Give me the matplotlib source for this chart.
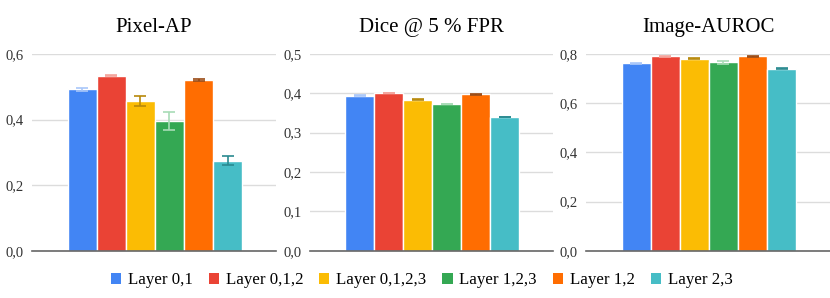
import matplotlib
matplotlib.use("Agg")
import matplotlib.pyplot as plt
from matplotlib.patches import Patch
import numpy as np

plt.rcParams['font.family'] = ['Liberation Serif', 'DejaVu Serif']

layers = ["Layer 0,1", "Layer 0,1,2", "Layer 0,1,2,3", "Layer 1,2,3", "Layer 1,2", "Layer 2,3"]
colors = ["#4285F4", "#EA4335", "#FBBC04", "#34A853", "#FF6D01", "#46BDC6"]
err_colors = ["#a9c7f9", "#f4a49c", "#b8890a", "#a8dcb6", "#9a4a14", "#2a8a90"]

titles = ["Pixel-AP", "Dice @ 5 % FPR", "Image-AUROC"]
pixel_ap = [0.492, 0.534, 0.456, 0.396, 0.522, 0.275]
pixel_ap_err = [0.004, 0.002, 0.015, 0.027, 0.003, 0.015]
dice = [0.394, 0.401, 0.384, 0.373, 0.398, 0.340]
dice_err = [0.001, 0.001, 0.001, 0.001, 0.001, 0.001]
auroc = [0.763, 0.790, 0.781, 0.766, 0.790, 0.741]
auroc_err = [0.002, 0.002, 0.003, 0.006, 0.002, 0.004]

values = [pixel_ap, dice, auroc]
errors = [pixel_ap_err, dice_err, auroc_err]
yticks = [[0.0, 0.2, 0.4, 0.6], [0.0, 0.1, 0.2, 0.3, 0.4, 0.5], [0.0, 0.2, 0.4, 0.6, 0.8]]

fig = plt.figure(figsize=(8.3, 2.98), dpi=100)
lefts = [32 / 830, 310 / 830, 586 / 830]
widths = [244 / 830, 243 / 830, 244 / 830]
bottom = (298 - 250.7) / 298
top = (298 - 54.0) / 298

x = np.arange(len(layers))
for i in range(3):
    ax = fig.add_axes([lefts[i], bottom, widths[i], top - bottom])
    ax.bar(x, values[i], width=1.0, color=colors, edgecolor="white", linewidth=1.0, zorder=2)
    for j in range(len(layers)):
        ax.errorbar(x[j], values[i][j], yerr=errors[i][j], color=err_colors[j],
                    capsize=4, elinewidth=1.2, capthick=1.2, zorder=3)
    ax.set_xlim(-0.5 - 1.22, 5.5 + 1.16)
    ax.set_ylim(0, yticks[i][-1])
    ax.set_yticks(yticks[i])
    ax.set_yticklabels([f"{t:.1f}".replace(".", ",") for t in yticks[i]])
    ax.set_xticks([])
    ax.grid(axis="y", color="#dcdcdc", linewidth=1.0, zorder=0)
    ax.set_axisbelow(True)
    for s in ["top", "right", "left"]:
        ax.spines[s].set_visible(False)
    ax.spines["bottom"].set_color("#666666")
    ax.spines["bottom"].set_linewidth(1.2)
    ax.spines["bottom"].set_zorder(4)
    ax.tick_params(axis="y", length=0, pad=6, labelsize=10.5, labelcolor="#333333")
    ax.set_title(titles[i], fontsize=15, pad=16)

handles = [Patch(facecolor=c, edgecolor="none") for c in colors]
fig.legend(handles, layers, loc="center", bbox_to_anchor=(0.508, 0.06), ncol=6,
           frameon=False, fontsize=12.2, handlelength=0.6, handleheight=0.6,
           handletextpad=0.4, columnspacing=0.95)

fig.savefig("out.png", dpi=100)
